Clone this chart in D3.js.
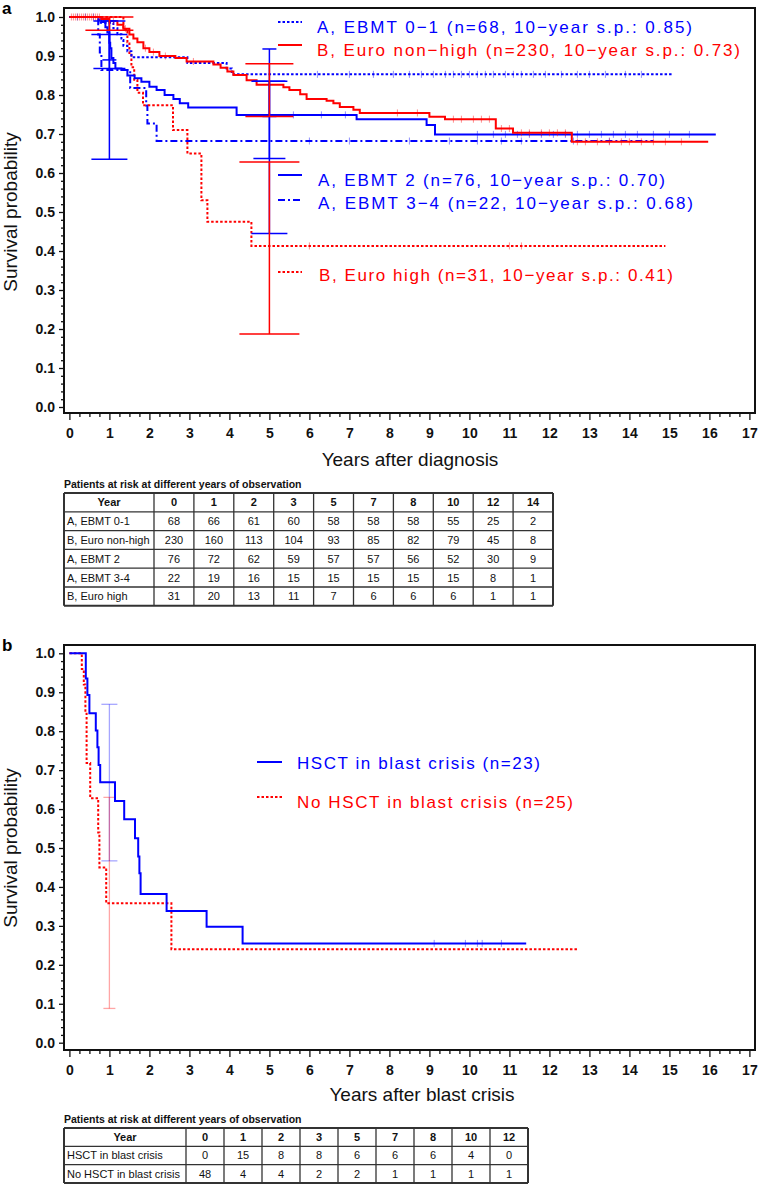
<!DOCTYPE html>
<html lang="en">
<head>
<meta charset="UTF-8">
<title>Survival curves</title>
<script src="https://d3js.org/d3.v7.min.js"></script>
<style>
    body { margin: 0; background: #fff; }
    svg { display: block; }
    text { font-family: Arial, "Liberation Sans", Helvetica, sans-serif; }
    .tick text { font-weight: bold; font-size: 14px; fill: #111; }
    .tick line { stroke: #111; stroke-width: 1.3; }
    .cell { font-size: 11px; fill: #111; }
</style>
</head>
<body>
<script>
    // ---- panel a: Kaplan-Meier step data (year, survival) ----
    const ebmt01Times = [0, 0.75, 1.1, 1.2, 1.3, 1.35, 1.45, 1.55, 2.95, 3.93, 4.06];
    const ebmt01Surv = [1, 0.985, 0.971, 0.956, 0.941, 0.926, 0.912, 0.897, 0.882, 0.868, 0.853];
    const ebmt01End = 15.07;
    const ebmt01Censor = [0.2, 0.4, 0.6, 6.2, 7.0, 7.6, 8.1, 8.5, 8.8, 9.1, 9.4, 9.6, 9.8, 10.0, 10.2, 10.4, 10.6, 10.9, 11.1, 11.3, 11.6, 11.9, 12.3, 12.7, 13.0, 13.4, 13.9, 14.3];

    const euroNonTimes = [0, 0.8, 1.0, 1.2, 1.35, 1.5, 1.6, 1.7, 1.85, 2.0, 2.25, 2.65, 2.93, 3.6, 3.78, 3.95, 4.1, 4.43, 4.68, 5.35, 5.5, 5.77, 5.93, 6.43, 6.6, 6.76, 7.1, 7.26, 9.0, 9.39, 10.66, 11.09, 12.56];
    const euroNonSurv = [1, 0.995, 0.99, 0.98, 0.97, 0.955, 0.945, 0.935, 0.92, 0.91, 0.9, 0.895, 0.886, 0.878, 0.87, 0.86, 0.851, 0.838, 0.826, 0.82, 0.813, 0.802, 0.79, 0.785, 0.779, 0.769, 0.762, 0.754, 0.744, 0.738, 0.714, 0.703, 0.68];
    const euroNonEnd = 15.97;
    const euroNonCensor = [0.05, 0.1, 0.15, 0.2, 0.25, 0.3, 0.35, 0.4, 0.45, 0.5, 0.55, 0.6, 0.65, 0.7, 0.75, 1.1, 1.4, 1.9, 2.1, 2.4, 3.1, 8.2, 8.7, 9.6, 9.8, 10.1, 10.3, 10.5, 10.8, 11.0, 11.3, 11.5, 11.8, 12.0, 12.2, 12.4, 12.7, 12.9, 13.2, 13.5, 13.8, 14.0, 14.3, 14.6, 14.9, 15.3];

    const ebmt2Times = [0, 0.8, 0.9, 0.95, 1.0, 1.02, 1.05, 1.1, 1.15, 1.3, 1.45, 1.63, 1.8, 2.0, 2.18, 2.38, 2.6, 2.76, 2.97, 4.18, 7.18, 8.93, 9.14];
    const ebmt2Surv = [1, 0.987, 0.974, 0.96, 0.934, 0.92, 0.895, 0.882, 0.868, 0.864, 0.85, 0.843, 0.834, 0.821, 0.813, 0.8, 0.79, 0.779, 0.768, 0.749, 0.738, 0.723, 0.699];
    const ebmt2End = 16.16;
    const ebmt2Censor = [5.6, 6.3, 6.9, 10.2, 10.6, 10.9, 11.2, 11.5, 11.8, 12.1, 12.4, 12.7, 13.0, 13.3, 13.6, 13.9, 14.2, 14.6, 15.0, 15.5];

    const ebmt34Times = [0, 0.72, 0.76, 0.8, 1.52, 1.92, 1.95, 2.18];
    const ebmt34Surv = [1, 0.955, 0.909, 0.864, 0.818, 0.773, 0.727, 0.682];
    const ebmt34End = 14.6;
    const ebmt34Censor = [6.0, 7.0, 8.5, 9.5, 10.2, 10.8, 11.3, 12.6, 13.5];

    const euroHighTimes = [0, 1.35, 1.45, 1.5, 1.55, 1.62, 1.7, 1.84, 2.59, 2.95, 3.3, 3.45, 4.55];
    const euroHighSurv = [1, 0.968, 0.935, 0.903, 0.871, 0.839, 0.806, 0.774, 0.71, 0.65, 0.53, 0.475, 0.413];
    const euroHighEnd = 14.9;
    const euroHighCensor = [6.0, 11.0, 11.3];

    // 95% CI bars
    const ciA = [
        { series: "ebmt34", year: 1, lo: 0.635, hi: 0.955 },
        { series: "ebmt2", year: 1, lo: 0.868, hi: 0.99 },
        { series: "ebmt01", year: 1, lo: 0.89, hi: 0.99 },
        { series: "euroNon", year: 1, lo: 0.966, hi: 1.0 },
        { series: "ebmt01", year: 5, lo: 0.745, hi: 0.918 },
        { series: "ebmt2", year: 5, lo: 0.637, hi: 0.835 },
        { series: "ebmt34", year: 5, lo: 0.445, hi: 0.835 },
        { series: "euroNon", year: 5, lo: 0.745, hi: 0.88 },
        { series: "euroHigh", year: 5, lo: 0.187, hi: 0.628 }
    ];

    const legendA = [
        "A, EBMT 0\u22121 (n=68, 10\u2212year s.p.: 0.85)",
        "B, Euro non\u2212high (n=230, 10\u2212year s.p.: 0.73)",
        "A, EBMT 2 (n=76, 10\u2212year s.p.: 0.70)",
        "A, EBMT 3\u22124 (n=22, 10\u2212year s.p.: 0.68)",
        "B, Euro high (n=31, 10\u2212year s.p.: 0.41)"
    ];

    // ---- panel b ----
    const hsctTimes = [0, 0.41, 0.45, 0.5, 0.66, 0.7, 0.73, 0.77, 1.14, 1.37, 1.64, 1.72, 1.75, 1.78, 2.43, 3.43, 4.33];
    const hsctSurv = [1, 0.935, 0.893, 0.846, 0.802, 0.759, 0.713, 0.669, 0.621, 0.574, 0.525, 0.478, 0.435, 0.382, 0.338, 0.298, 0.255];
    const hsctEnd = 11.42;
    const hsctCensor = [9.12, 9.9, 10.2, 10.32, 10.8];

    const noHsctTimes = [0, 0.31, 0.36, 0.4, 0.43, 0.52, 0.72, 0.75, 0.92, 2.55];
    const noHsctSurv = [1, 0.96, 0.92, 0.845, 0.718, 0.628, 0.54, 0.45, 0.358, 0.24];
    const noHsctEnd = 12.7;

    const ciB = [
        { series: "hsct", year: 1, lo: 0.467, hi: 0.869 },
        { series: "noHsct", year: 1, lo: 0.088, hi: 0.63 }
    ];

    const legendB = ["HSCT in blast crisis (n=23)", "No HSCT in blast crisis (n=25)"];

    // ---- at-risk tables ----
    const riskTitle = "Patients at risk at different years of observation";
    const yearsA = [0, 1, 2, 3, 5, 7, 8, 10, 12, 14];
    const rowsA = ["A, EBMT 0-1", "B, Euro non-high", "A, EBMT 2", "A, EBMT 3-4", "B, Euro high"];
    const riskEbmt01 = [68, 66, 61, 60, 58, 58, 58, 55, 25, 2];
    const riskEuroNon = [230, 160, 113, 104, 93, 85, 82, 79, 45, 8];
    const riskEbmt2 = [76, 72, 62, 59, 57, 57, 56, 52, 30, 9];
    const riskEbmt34 = [22, 19, 16, 15, 15, 15, 15, 15, 8, 1];
    const riskEuroHigh = [31, 20, 13, 11, 7, 6, 6, 6, 1, 1];

    const yearsB = [0, 1, 2, 3, 5, 7, 8, 10, 12];
    const rowsB = ["HSCT in blast crisis", "No HSCT in blast crisis"];
    const riskHsct = [0, 15, 8, 8, 6, 6, 6, 4, 0];
    const riskNoHsct = [48, 4, 4, 2, 2, 1, 1, 1, 1];

    // ---------------------------------------------------------------
    const BLUE = "#0000ff", RED = "#ff0000";
    const width = 759, height = 1187;
    const svg = d3.select("body").append("svg").attr("width", width).attr("height", height);

    const x = d3.scaleLinear().domain([0, 17]).range([69.4, 749.4]);
    const frameL = 64, frameR = 755;

    const styles = {
        ebmt01: { color: BLUE, dash: "2.5,2", cap: 7 },
        euroNon: { color: RED, dash: null, cap: 24 },
        ebmt2: { color: BLUE, dash: null, cap: 16 },
        ebmt34: { color: BLUE, dash: "7,3,2,3", cap: 18 },
        euroHigh: { color: RED, dash: "2.5,2", cap: 30 },
        hsct: { color: BLUE, dash: null, cap: 8 },
        noHsct: { color: RED, dash: "2.5,2", cap: 6 }
    };

    function survAt(times, surv, t) {
        let s = surv[0];
        times.forEach((tt, i) => { if (tt <= t) s = surv[i]; });
        return s;
    }

    function drawAxes(y, top, bottom, xTitle, xTitleX, xTitleY) {
        let g = svg.append("g");
        // minor ticks
        g.append("g").attr("transform", `translate(0,${bottom})`)
            .call(d3.axisBottom(x).tickValues(d3.range(0, 17.01, 0.25).filter(v => v % 1 !== 0)).tickSize(4).tickFormat(""))
            .call(a => a.select(".domain").remove());
        g.append("g").attr("transform", `translate(0,${bottom})`)
            .call(d3.axisBottom(x).tickValues(d3.range(0, 18)).tickSize(7).tickPadding(8).tickFormat(d3.format("d")))
            .call(a => a.select(".domain").remove());
        g.append("g").attr("transform", `translate(${frameL},0)`)
            .call(d3.axisLeft(y).tickValues(d3.range(0, 51).map(i => i / 50).filter((v, i) => i % 5 !== 0)).tickSize(3).tickFormat(""))
            .call(a => a.select(".domain").remove());
        g.append("g").attr("transform", `translate(${frameL},0)`)
            .call(d3.axisLeft(y).tickValues(d3.range(0, 11).map(i => i / 10)).tickSize(5).tickPadding(4).tickFormat(d3.format(".1f")))
            .call(a => a.select(".domain").remove());

        g.append("rect")
            .attr("x", frameL).attr("y", top)
            .attr("width", frameR - frameL).attr("height", bottom - top)
            .attr("fill", "none").attr("stroke", "#111").attr("stroke-width", 2);

        g.append("text")
            .attr("transform", `translate(17,${(y(0) + y(1)) / 2}) rotate(-90)`)
            .attr("text-anchor", "middle")
            .attr("font-size", 19)
            .attr("fill", "#111")
            .text("Survival probability");

        g.append("text")
            .attr("x", xTitleX).attr("y", xTitleY)
            .attr("text-anchor", "middle")
            .attr("font-size", 19)
            .attr("fill", "#111")
            .text(xTitle);
    }

    function drawCurve(y, key, times, surv, end, censor, opacity) {
        const st = styles[key];
        const pts = times.map((t, i) => [t, surv[i]]);
        pts.push([end, surv[surv.length - 1]]);
        const line = d3.line().x(d => x(d[0])).y(d => y(d[1])).curve(d3.curveStepAfter);
        svg.append("path")
            .datum(pts)
            .attr("d", line)
            .attr("fill", "none")
            .attr("stroke", st.color)
            .attr("stroke-width", 2)
            .attr("stroke-dasharray", st.dash);
        svg.append("g").selectAll("line")
            .data(censor || [])
            .join("line")
            .attr("x1", d => x(d)).attr("x2", d => x(d))
            .attr("y1", d => y(survAt(times, surv, d)) - 3.5)
            .attr("y2", d => y(survAt(times, surv, d)) + 3.5)
            .attr("stroke", st.color)
            .attr("stroke-opacity", opacity)
            .attr("stroke-width", 1);
    }

    function drawCI(y, bars, opacity, width) {
        let g = svg.append("g");
        bars.forEach(b => {
            const st = styles[b.series];
            const cx = x(b.year);
            g.append("line").attr("x1", cx).attr("x2", cx).attr("y1", y(b.hi)).attr("y2", y(b.lo))
                .attr("stroke", st.color).attr("stroke-opacity", opacity).attr("stroke-width", width);
            [b.lo, b.hi].forEach(v => {
                g.append("line").attr("x1", cx - st.cap).attr("x2", cx + st.cap)
                    .attr("y1", y(v)).attr("y2", y(v))
                    .attr("stroke", st.color).attr("stroke-opacity", opacity).attr("stroke-width", width);
            });
        });
    }

    function drawLegend(entries) {
        entries.forEach(e => {
            const st = styles[e.key];
            svg.append("line")
                .attr("x1", e.sx0).attr("x2", e.sx1).attr("y1", e.sy).attr("y2", e.sy)
                .attr("stroke", st.color).attr("stroke-width", 2).attr("stroke-dasharray", st.dash);
            svg.append("text")
                .attr("x", e.tx).attr("y", e.ty)
                .attr("font-size", 17)
                .attr("fill", st.color)
                .attr("textLength", e.w).attr("lengthAdjust", "spacing")
                .text(e.label);
        });
    }

    function drawTable(left, firstW, colW, top, rowH, years, labels, rows, titleY) {
        let g = svg.append("g");
        g.append("text").attr("x", left).attr("y", titleY)
            .attr("font-size", 10.5).attr("font-weight", "bold").attr("fill", "#111")
            .text(riskTitle);
        const nCols = years.length;
        const totalW = firstW + nCols * colW;
        const nRows = rows.length + 1;
        const colX = i => left + firstW + i * colW;
        // grid
        for (let r = 0; r <= nRows; r++) {
            g.append("line").attr("x1", left).attr("x2", left + totalW)
                .attr("y1", top + r * rowH).attr("y2", top + r * rowH)
                .attr("stroke", "#333").attr("stroke-width", (r === 0 || r === nRows) ? 2 : 1.3);
        }
        for (let c = -1; c <= nCols; c++) {
            const xx = c === -1 ? left : colX(c);
            g.append("line").attr("x1", xx).attr("x2", xx)
                .attr("y1", top).attr("y2", top + nRows * rowH)
                .attr("stroke", "#333").attr("stroke-width", (c === -1 || c === nCols) ? 2 : 1.3);
        }
        // header
        g.append("text").attr("class", "cell").attr("font-weight", "bold")
            .attr("x", left + firstW / 2).attr("y", top + rowH / 2 + 4)
            .attr("text-anchor", "middle").text("Year");
        years.forEach((yv, i) => {
            g.append("text").attr("class", "cell").attr("font-weight", "bold")
                .attr("x", colX(i) + colW / 2).attr("y", top + rowH / 2 + 4)
                .attr("text-anchor", "middle").text(yv);
        });
        rows.forEach((vals, r) => {
            const cy = top + (r + 1) * rowH + rowH / 2 + 4;
            g.append("text").attr("class", "cell").attr("x", left + 3).attr("y", cy).text(labels[r]);
            vals.forEach((v, i) => {
                g.append("text").attr("class", "cell")
                    .attr("x", colX(i) + colW / 2).attr("y", cy)
                    .attr("text-anchor", "middle").text(v);
            });
        });
    }

    // ---------------- panel a ----------------
    const yA = d3.scaleLinear().domain([0, 1]).range([407, 17]);
    svg.append("text").attr("x", 2).attr("y", 14).attr("font-size", 17).attr("font-weight", "bold").text("a");
    drawAxes(yA, 8, 413, "Years after diagnosis", 410, 466);

    drawCurve(yA, "ebmt34", ebmt34Times, ebmt34Surv, ebmt34End, ebmt34Censor, 0.45);
    drawCurve(yA, "euroHigh", euroHighTimes, euroHighSurv, euroHighEnd, euroHighCensor, 0.45);
    drawCurve(yA, "ebmt01", ebmt01Times, ebmt01Surv, ebmt01End, ebmt01Censor, 0.45);
    drawCurve(yA, "ebmt2", ebmt2Times, ebmt2Surv, ebmt2End, ebmt2Censor, 0.45);
    drawCurve(yA, "euroNon", euroNonTimes, euroNonSurv, euroNonEnd, euroNonCensor, 0.45);
    drawCI(yA, ciA, 1, 1.5);

    drawLegend([
        { key: "ebmt01", label: legendA[0], sx0: 278, sx1: 302, sy: 22, tx: 317, ty: 32.5, w: 375 },
        { key: "euroNon", label: legendA[1], sx0: 278, sx1: 302, sy: 45, tx: 317, ty: 56, w: 423 },
        { key: "ebmt2", label: legendA[2], sx0: 278, sx1: 302, sy: 175, tx: 318, ty: 186, w: 347 },
        { key: "ebmt34", label: legendA[3], sx0: 278, sx1: 302, sy: 200, tx: 318, ty: 209, w: 375 },
        { key: "euroHigh", label: legendA[4], sx0: 278, sx1: 302, sy: 272, tx: 319, ty: 281, w: 354 }
    ]);

    drawTable(64, 90, 39.9, 493, 18.8, yearsA, rowsA,
        [riskEbmt01, riskEuroNon, riskEbmt2, riskEbmt34, riskEuroHigh], 488);

    // ---------------- panel b ----------------
    const yB = d3.scaleLinear().domain([0, 1]).range([1042.7, 653.3]);
    svg.append("text").attr("x", 2).attr("y", 651).attr("font-size", 17).attr("font-weight", "bold").text("b");
    drawAxes(yB, 645, 1050, "Years after blast crisis", 422, 1101);

    drawCI(yB, ciB, 0.35, 1.3);
    drawCurve(yB, "noHsct", noHsctTimes, noHsctSurv, noHsctEnd, [], 0.45);
    drawCurve(yB, "hsct", hsctTimes, hsctSurv, hsctEnd, hsctCensor, 0.45);

    drawLegend([
        { key: "hsct", label: legendB[0], sx0: 257, sx1: 282, sy: 762, tx: 297, ty: 769, w: 243 },
        { key: "noHsct", label: legendB[1], sx0: 257, sx1: 282, sy: 797, tx: 297, ty: 808, w: 276 }
    ]);

    drawTable(64, 122, 38, 1128, 18.3, yearsB, rowsB, [riskHsct, riskNoHsct], 1123);
</script>
</body>
</html>
